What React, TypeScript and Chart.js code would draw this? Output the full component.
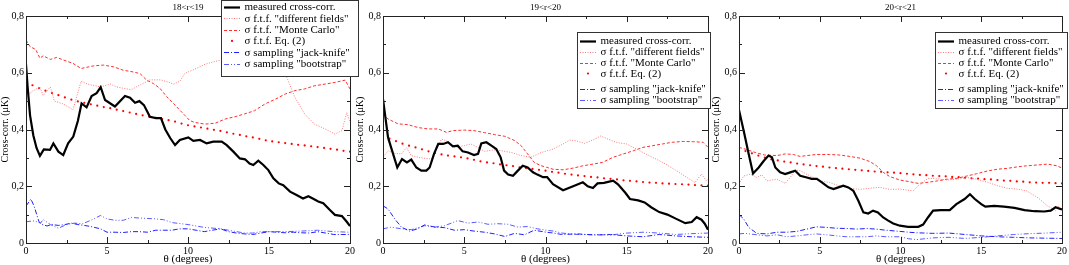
import React, { useEffect, useRef } from "react";
import { Chart, registerables } from "chart.js";

Chart.register(...registerables);

const FONT = "'Liberation Serif', 'Times New Roman', serif";

// ---------- texts & ticks ----------
const panelTitles = ["18<r<19", "19<r<20", "20<r<21"];
const seriesLabels = [
  "measured cross-corr.",
  'σ f.t.f. "different fields"',
  'σ f.t.f. "Monte Carlo"',
  "σ f.t.f. Eq. (2)",
  'σ sampling "jack-knife"',
  'σ sampling "bootstrap"',
];
const xAxisTitle = "θ (degrees)";
const yAxisTitle = "Cross-corr. (μK)";
const xMajorTicks = [0, 5, 10, 15, 20];
const xMinorTicks = [2.5, 7.5, 12.5, 17.5];
const yMajorTicks = [0, 0.2, 0.4, 0.6, 0.8];
const yMinorTicks = [0.1, 0.3, 0.5, 0.7];

// θ grid of the Eq. (2) dots
const eq2Theta = [
  0, 0.4, 0.8, 1.2, 1.6, 2.0, 2.4, 2.8, 3.2, 3.6, 4.0, 4.4, 4.8, 5.2, 5.6, 6.0, 6.4, 6.8, 7.2, 7.6,
  8.0, 8.4, 8.8, 9.2, 9.6, 10.0, 10.4, 10.8, 11.2, 11.6, 12.0, 12.4, 12.8, 13.2, 13.6, 14.0, 14.4,
  14.8, 15.2, 15.6, 16.0, 16.4, 16.8, 17.2, 17.6, 18.0, 18.4, 18.8, 19.2, 19.6, 20.0,
];

// ---------- panel 1 : 18<r<19 ----------
const p1Measured = [
  [0, 0.63], [0.1, 0.55], [0.25, 0.45], [0.45, 0.38], [0.65, 0.335], [0.86, 0.307], [1.1, 0.33],
  [1.48, 0.328], [1.69, 0.351], [2.0, 0.322], [2.3, 0.31], [2.6, 0.351], [2.92, 0.375], [3.2, 0.43],
  [3.43, 0.492], [3.74, 0.478], [4.05, 0.518], [4.36, 0.528], [4.61, 0.549], [4.88, 0.504],
  [5.49, 0.481], [6.11, 0.518], [6.42, 0.512], [6.73, 0.494], [7.0, 0.5], [7.28, 0.486],
  [7.65, 0.445], [8.02, 0.44], [8.33, 0.44], [8.6, 0.4], [8.9, 0.37], [9.2, 0.345], [9.5, 0.363],
  [10.02, 0.372], [10.33, 0.36], [10.74, 0.363], [11.15, 0.351], [11.56, 0.357], [12.08, 0.357],
  [12.39, 0.345], [12.8, 0.322], [13.2, 0.298], [13.52, 0.295], [13.8, 0.28], [14.03, 0.275],
  [14.34, 0.29], [14.65, 0.275], [14.96, 0.257], [15.27, 0.228], [15.6, 0.21], [15.88, 0.204],
  [16.3, 0.181], [16.7, 0.169], [17.1, 0.157], [17.43, 0.165], [17.7, 0.157], [18.04, 0.146],
  [18.35, 0.14], [18.76, 0.116], [19.07, 0.099], [19.5, 0.095], [19.8, 0.075], [20, 0.06],
];
const p1Different = [
  [0, 0.515], [0.4, 0.535], [0.85, 0.55], [1.06, 0.52], [1.5, 0.55], [1.75, 0.5], [2.3, 0.49],
  [2.9, 0.47], [3.4, 0.57], [3.8, 0.56], [4.6, 0.55], [5.2, 0.56], [5.6, 0.55], [6.5, 0.54],
  [6.8, 0.55], [7.65, 0.575], [8.3, 0.575], [8.9, 0.565], [9.1, 0.56], [9.5, 0.57], [9.8, 0.598],
  [10.43, 0.613], [11.05, 0.63], [11.67, 0.64], [12.3, 0.648], [13.0, 0.655], [13.8, 0.66],
  [14.6, 0.65], [15.4, 0.62], [16.1, 0.584], [16.6, 0.513], [17.2, 0.455], [17.8, 0.419],
  [18.46, 0.402], [19.07, 0.384], [19.5, 0.396], [19.8, 0.46], [20, 0.425],
];
const p1MonteCarlo = [
  [0, 0.715], [0.25, 0.692], [0.6, 0.682], [0.86, 0.651], [1.06, 0.66], [1.5, 0.647], [1.9, 0.654],
  [2.3, 0.645], [2.9, 0.633], [3.4, 0.615], [4.15, 0.624], [4.77, 0.627], [5.4, 0.621], [6.0, 0.609],
  [6.6, 0.603], [7.04, 0.597], [7.45, 0.574], [7.86, 0.562], [8.27, 0.545], [8.68, 0.516],
  [9.1, 0.492], [9.5, 0.468], [9.8, 0.45], [10.1, 0.432], [10.4, 0.425], [11.05, 0.419],
  [11.67, 0.422], [12.3, 0.437], [12.9, 0.445], [13.5, 0.455], [14.1, 0.466], [14.75, 0.49],
  [15.4, 0.507], [16.0, 0.525], [16.6, 0.537], [17.2, 0.543], [17.8, 0.554], [18.46, 0.56],
  [19.07, 0.566], [19.7, 0.574], [20, 0.543],
];
const p1Eq2 = [
  0.566, 0.556, 0.546, 0.537, 0.529, 0.521, 0.513, 0.505, 0.499, 0.494, 0.489, 0.484, 0.479, 0.475,
  0.47, 0.465, 0.46, 0.455, 0.45, 0.445, 0.441, 0.437, 0.433, 0.428, 0.421, 0.415, 0.411, 0.407,
  0.403, 0.399, 0.395, 0.39, 0.385, 0.381, 0.376, 0.372, 0.367, 0.362, 0.358, 0.355, 0.352, 0.349,
  0.346, 0.344, 0.341, 0.338, 0.335, 0.332, 0.329, 0.325, 0.322,
];
const p1JackKnife = [
  [0, 0.13], [0.3, 0.155], [0.5, 0.13], [0.8, 0.075], [1.0, 0.065], [1.3, 0.06], [1.6, 0.065],
  [2.0, 0.062], [2.4, 0.065], [2.8, 0.07], [3.2, 0.065], [3.6, 0.062], [4.0, 0.058], [4.6, 0.05],
  [5.0, 0.038], [5.5, 0.038], [6.0, 0.037], [6.5, 0.04], [7.0, 0.04], [7.5, 0.038], [8.0, 0.045],
  [8.5, 0.045], [9.0, 0.045], [9.5, 0.05], [10, 0.05], [10.5, 0.045], [11, 0.04], [11.5, 0.045],
  [12, 0.05], [12.5, 0.04], [13, 0.035], [13.5, 0.032], [14, 0.03], [14.5, 0.035], [15, 0.04],
  [15.5, 0.038], [16, 0.036], [16.5, 0.038], [17, 0.036], [17.5, 0.035], [18, 0.04], [18.5, 0.035],
  [19, 0.03], [19.5, 0.03], [20, 0.03],
];
const p1Bootstrap = [
  [0, 0.075], [0.5, 0.078], [0.9, 0.07], [1.06, 0.083], [1.5, 0.065], [2.0, 0.052], [2.5, 0.065],
  [3.0, 0.07], [3.5, 0.068], [4.0, 0.08], [4.6, 0.097], [5.0, 0.085], [5.5, 0.08], [6.0, 0.08],
  [6.5, 0.09], [7.0, 0.088], [8.0, 0.085], [8.5, 0.082], [9.0, 0.072], [10, 0.065], [10.5, 0.06],
  [11, 0.055], [12, 0.05], [12.5, 0.045], [13, 0.04], [13.5, 0.035], [14, 0.035], [14.5, 0.04],
  [15, 0.04], [16, 0.04], [17, 0.042], [18, 0.045], [19, 0.04], [20, 0.038],
];

// ---------- panel 2 : 19<r<20 ----------
const p2Measured = [
  [0, 0.507], [0.31, 0.372], [0.62, 0.314], [0.88, 0.266], [1.17, 0.296], [1.47, 0.284],
  [1.74, 0.294], [2.05, 0.266], [2.36, 0.255], [2.67, 0.255], [2.87, 0.266], [3.14, 0.314],
  [3.4, 0.349], [3.7, 0.349], [4.0, 0.355], [4.3, 0.341], [4.6, 0.343], [4.9, 0.323], [5.23, 0.319],
  [5.6, 0.31], [5.85, 0.314], [6.05, 0.351], [6.36, 0.355], [6.67, 0.343], [6.97, 0.331],
  [7.24, 0.302], [7.45, 0.255], [7.7, 0.241], [8.0, 0.237], [8.3, 0.255], [8.6, 0.272],
  [8.9, 0.266], [9.23, 0.249], [9.5, 0.241], [9.85, 0.232], [10.1, 0.232], [10.46, 0.207],
  [11.08, 0.186], [11.7, 0.2], [12.3, 0.214], [12.6, 0.2], [12.92, 0.194], [13.2, 0.21],
  [13.6, 0.212], [14.16, 0.22], [14.46, 0.207], [14.9, 0.178], [15.2, 0.155], [15.7, 0.15],
  [16.1, 0.143], [16.5, 0.126], [17.0, 0.109], [17.5, 0.1], [18.05, 0.085], [18.6, 0.07],
  [19.0, 0.074], [19.3, 0.091], [19.6, 0.082], [19.8, 0.068], [20, 0.047],
];
const p2Different = [
  [0, 0.302], [0.31, 0.325], [0.72, 0.316], [1.13, 0.314], [1.44, 0.336], [1.74, 0.308],
  [2.36, 0.3], [2.97, 0.296], [3.3, 0.331], [3.6, 0.366], [3.9, 0.36], [4.4, 0.336], [5.0, 0.343],
  [5.4, 0.349], [5.85, 0.337], [6.25, 0.323], [6.8, 0.328], [7.3, 0.325], [7.9, 0.319],
  [8.5, 0.308], [9.1, 0.302], [9.74, 0.319], [10.46, 0.331], [11.08, 0.349], [11.5, 0.363],
  [11.9, 0.36], [12.4, 0.351], [12.92, 0.363], [13.4, 0.377], [13.85, 0.366], [14.4, 0.354],
  [15.0, 0.349], [15.6, 0.331], [16.2, 0.313], [16.8, 0.296], [17.4, 0.278], [18.05, 0.255],
  [18.7, 0.231], [19.2, 0.213], [19.6, 0.243], [19.9, 0.219], [20, 0.225],
];
const p2MonteCarlo = [
  [0, 0.455], [0.31, 0.437], [0.92, 0.42], [1.54, 0.417], [2.15, 0.407], [2.77, 0.402],
  [3.4, 0.402], [3.9, 0.39], [4.3, 0.396], [5.0, 0.398], [5.6, 0.396], [6.25, 0.389], [6.87, 0.382],
  [7.5, 0.376], [8.1, 0.361], [8.5, 0.343], [8.9, 0.314], [9.3, 0.284], [9.7, 0.273], [10.05, 0.267],
  [10.46, 0.26], [11.08, 0.258], [11.7, 0.264], [12.3, 0.272], [12.92, 0.278], [13.5, 0.284],
  [14.16, 0.302], [14.8, 0.314], [15.4, 0.325], [16.0, 0.337], [16.6, 0.343], [17.2, 0.349],
  [17.8, 0.355], [18.5, 0.358], [19.1, 0.357], [19.7, 0.355], [20, 0.337],
];
const p2Eq2 = [
  0.378, 0.368, 0.359, 0.35, 0.343, 0.337, 0.33, 0.323, 0.317, 0.312, 0.308, 0.305, 0.302, 0.298,
  0.293, 0.288, 0.284, 0.281, 0.277, 0.274, 0.271, 0.267, 0.264, 0.261, 0.258, 0.255, 0.251, 0.248,
  0.244, 0.241, 0.238, 0.236, 0.233, 0.231, 0.228, 0.226, 0.224, 0.221, 0.219, 0.217, 0.215, 0.213,
  0.212, 0.21, 0.209, 0.208, 0.207, 0.206, 0.204, 0.203, 0.202,
];
const p2JackKnife = [
  [0, 0.131], [0.31, 0.12], [0.72, 0.085], [1.13, 0.056], [1.64, 0.042], [2.15, 0.05], [2.56, 0.064],
  [3.2, 0.056], [3.8, 0.054], [4.4, 0.045], [5.0, 0.047], [5.6, 0.042], [6.25, 0.038], [6.87, 0.032],
  [7.5, 0.023], [8.1, 0.034], [8.7, 0.029], [9.3, 0.045], [10.05, 0.038], [10.5, 0.035], [11, 0.03],
  [12, 0.032], [13, 0.028], [14, 0.03], [15, 0.025], [16, 0.022], [17, 0.03], [18, 0.025],
  [19, 0.022], [20, 0.02],
];
const p2Bootstrap = [
  [0, 0.05], [0.51, 0.056], [1.13, 0.05], [1.74, 0.047], [2.56, 0.061], [3.2, 0.056], [3.8, 0.061],
  [4.6, 0.079], [5.23, 0.07], [5.85, 0.074], [6.46, 0.066], [7.07, 0.068], [7.7, 0.066], [8.3, 0.056],
  [8.9, 0.058], [9.5, 0.05], [10.05, 0.045], [10.5, 0.042], [11, 0.035], [12, 0.03], [13, 0.03],
  [14, 0.028], [15, 0.035], [16, 0.038], [17, 0.035], [18, 0.03], [19, 0.033], [20, 0.035],
];

// ---------- panel 3 : 20<r<21 ----------
const p3Measured = [
  [0, 0.469], [0.29, 0.396], [0.6, 0.314], [0.87, 0.245], [1.22, 0.266], [1.54, 0.29], [1.83, 0.308],
  [2.04, 0.302], [2.25, 0.266], [2.55, 0.249], [2.86, 0.243], [3.17, 0.249], [3.48, 0.255],
  [3.79, 0.237], [4.2, 0.231], [4.5, 0.226], [4.82, 0.226], [5.13, 0.214], [5.54, 0.196],
  [5.85, 0.19], [6.15, 0.196], [6.46, 0.202], [6.77, 0.196], [7.08, 0.184], [7.39, 0.149],
  [7.7, 0.108], [8.0, 0.104], [8.3, 0.114], [8.6, 0.108], [8.93, 0.09], [9.24, 0.079], [9.55, 0.069],
  [9.96, 0.061], [10.47, 0.057], [11.1, 0.057], [11.4, 0.065], [11.7, 0.09], [12.02, 0.114],
  [12.5, 0.116], [13.05, 0.116], [13.46, 0.137], [13.97, 0.155], [14.3, 0.172], [14.6, 0.155],
  [15.0, 0.137], [15.25, 0.128], [15.8, 0.131], [16.4, 0.128], [17.06, 0.124], [17.68, 0.116],
  [18.3, 0.112], [18.9, 0.111], [19.3, 0.114], [19.6, 0.126], [19.9, 0.12], [20, 0.118],
];
const p3Different = [
  [0, 0.207], [0.29, 0.236], [0.7, 0.243], [1.1, 0.231], [1.42, 0.24], [1.73, 0.219], [2.35, 0.225],
  [2.86, 0.21], [3.17, 0.231], [3.48, 0.257], [3.79, 0.255], [4.4, 0.236], [5.02, 0.219],
  [5.6, 0.213], [6.25, 0.201], [6.87, 0.193], [7.5, 0.189], [8.1, 0.193], [8.7, 0.196],
  [9.34, 0.189], [9.96, 0.19], [10.47, 0.186], [10.8, 0.184], [11.1, 0.202], [11.7, 0.228],
  [12.3, 0.226], [12.9, 0.222], [13.5, 0.225], [14.1, 0.231], [14.7, 0.225], [15.4, 0.214],
  [16.0, 0.202], [16.6, 0.193], [17.2, 0.19], [17.8, 0.184], [18.5, 0.16], [19.1, 0.131],
  [19.6, 0.114], [19.8, 0.131], [20, 0.114],
];
const p3MonteCarlo = [
  [0, 0.337], [0.38, 0.331], [1.0, 0.319], [1.6, 0.31], [2.35, 0.308], [2.86, 0.314], [3.37, 0.312],
  [3.79, 0.305], [4.2, 0.308], [4.8, 0.312], [5.6, 0.312], [6.25, 0.31], [6.87, 0.305], [7.5, 0.299],
  [8.1, 0.287], [8.5, 0.273], [8.93, 0.249], [9.34, 0.234], [9.96, 0.222], [10.47, 0.217],
  [11.1, 0.21], [11.7, 0.214], [12.3, 0.219], [12.9, 0.225], [13.5, 0.228], [14.1, 0.236],
  [14.7, 0.244], [15.4, 0.254], [16.0, 0.26], [16.6, 0.263], [17.2, 0.268], [17.8, 0.272],
  [18.5, 0.275], [19.1, 0.278], [19.7, 0.272], [20, 0.264],
];
const p3Eq2 = [
  0.332, 0.324, 0.316, 0.308, 0.301, 0.295, 0.291, 0.287, 0.284, 0.28, 0.277, 0.274, 0.271, 0.269,
  0.266, 0.264, 0.262, 0.26, 0.258, 0.256, 0.254, 0.252, 0.251, 0.249, 0.248, 0.246, 0.244, 0.242,
  0.24, 0.239, 0.237, 0.236, 0.235, 0.233, 0.232, 0.23, 0.228, 0.227, 0.225, 0.224, 0.222, 0.22,
  0.219, 0.217, 0.216, 0.214, 0.213, 0.212, 0.212, 0.211, 0.21,
];
const p3JackKnife = [
  [0, 0.1], [0.29, 0.085], [0.6, 0.055], [1.1, 0.034], [1.73, 0.032], [2.35, 0.038], [2.96, 0.038],
  [3.58, 0.041], [4.2, 0.049], [4.8, 0.057], [5.43, 0.055], [6.05, 0.052], [6.67, 0.051], [7.3, 0.049],
  [7.9, 0.051], [8.5, 0.049], [9.1, 0.045], [9.96, 0.041], [10.5, 0.038], [11, 0.036], [12, 0.034],
  [13, 0.035], [14, 0.03], [15, 0.025], [16, 0.022], [17, 0.02], [18, 0.018], [19, 0.017], [20, 0.016],
];
const p3Bootstrap = [
  [0, 0.032], [0.38, 0.034], [1.1, 0.029], [1.73, 0.025], [2.35, 0.029], [2.96, 0.022], [3.58, 0.025],
  [4.2, 0.029], [4.8, 0.032], [5.43, 0.029], [6.05, 0.025], [6.67, 0.022], [7.3, 0.022], [7.9, 0.022],
  [8.5, 0.025], [9.1, 0.022], [9.96, 0.022], [10.5, 0.015], [11, 0.012], [12, 0.018], [13, 0.02],
  [14, 0.016], [15, 0.02], [16, 0.025], [17, 0.03], [18, 0.033], [19, 0.035], [20, 0.038],
];

// ---------- styles ----------
const STYLES = [
  { color: "#000000", width: 2.2, dash: [] as number[], dots: false },
  { color: "rgb(255,120,120)", width: 1, dash: [1, 1.5], dots: false },
  { color: "rgb(255,45,45)", width: 1, dash: [3, 2], dots: false },
  { color: "#ff0000", width: 0, dash: [] as number[], dots: true },
  { color: "rgb(30,30,255)", width: 1, dash: [5, 2, 1, 2], dots: false },
  { color: "rgb(90,90,255)", width: 1, dash: [5, 2, 1, 2, 1, 2], dots: false },
];

type PanelCfg = {
  title: string;
  series: number[][][];
  eq2: number[];
  left: number;
  width: number;
  yWidth: number;
  padRight: number;
  legend: { x: number; y: number; w: number; h: number; rows: number[] };
};

const PANELS: PanelCfg[] = [
  {
    title: panelTitles[0],
    series: [p1Measured, p1Different, p1MonteCarlo, [], p1JackKnife, p1Bootstrap],
    eq2: p1Eq2,
    left: 0, width: 362, yWidth: 26, padRight: 12,
    legend: { x: 221, y: 0, w: 138, h: 77, rows: [6.7, 18.3, 30, 40.9, 52.3, 64] },
  },
  {
    title: panelTitles[1],
    series: [p2Measured, p2Different, p2MonteCarlo, [], p2JackKnife, p2Bootstrap],
    eq2: p2Eq2,
    left: 355, width: 360, yWidth: 28, padRight: 7,
    legend: { x: 577, y: 32, w: 134, h: 77, rows: [41, 51.7, 62.7, 73.5, 88.5, 100] },
  },
  {
    title: panelTitles[2],
    series: [p3Measured, p3Different, p3MonteCarlo, [], p3JackKnife, p3Bootstrap],
    eq2: p3Eq2,
    left: 711, width: 358, yWidth: 28, padRight: 6,
    legend: { x: 935, y: 32, w: 133, h: 77, rows: [41, 51.7, 62.7, 73.5, 88.5, 100] },
  },
];

function Panel({ cfg }: { cfg: PanelCfg }) {
  const ref = useRef<HTMLCanvasElement | null>(null);

  useEffect(() => {
    const canvas = ref.current;
    if (!canvas) return;

    const datasets: any[] = seriesLabels.map((label, i) => {
      const st = STYLES[i];
      if (st.dots) {
        return {
          label,
          data: eq2Theta.map((x, k) => ({ x, y: cfg.eq2[k] })),
          showLine: false,
          pointRadius: 1.1,
          pointBackgroundColor: st.color,
          pointBorderWidth: 0,
          borderColor: st.color,
        };
      }
      return {
        label,
        data: cfg.series[i].map(([x, y]) => ({ x, y })),
        borderColor: st.color,
        borderWidth: st.width,
        borderDash: st.dash,
        pointRadius: 0,
        fill: false,
        tension: 0,
      };
    });

    const deco = {
      id: "deco",
      afterDraw(chart: any) {
        const ctx = chart.ctx as CanvasRenderingContext2D;
        const { left, right, top, bottom } = chart.chartArea;
        const xs = chart.scales.x;
        const ys = chart.scales.y;
        ctx.save();
        ctx.strokeStyle = "#222";
        ctx.lineWidth = 1;
        ctx.setLineDash([]);
        // frame
        ctx.strokeRect(Math.round(left) + 0.5, Math.round(top) + 0.5, Math.round(right - left), Math.round(bottom - top));
        // ticks (inward, mirrored)
        const tick = (vals: number[], len: number) => {
          vals.forEach((v) => {
            const px = Math.round(xs.getPixelForValue(v)) + 0.5;
            ctx.beginPath();
            ctx.moveTo(px, bottom); ctx.lineTo(px, bottom - len);
            ctx.moveTo(px, top); ctx.lineTo(px, top + len);
            ctx.stroke();
          });
        };
        const ytick = (vals: number[], len: number) => {
          vals.forEach((v) => {
            const py = Math.round(ys.getPixelForValue(v)) + 0.5;
            ctx.beginPath();
            ctx.moveTo(left, py); ctx.lineTo(left + len, py);
            ctx.moveTo(right, py); ctx.lineTo(right - len, py);
            ctx.stroke();
          });
        };
        tick(xMajorTicks, 6);
        tick(xMinorTicks, 3);
        ytick(yMajorTicks, 6);
        ytick(yMinorTicks, 3);

        // panel title
        ctx.fillStyle = "#000";
        ctx.font = `9px ${FONT}`;
        ctx.textAlign = "center";
        ctx.textBaseline = "middle";
        ctx.fillText(cfg.title, (left + right) / 2, 7.5);

        // legend
        const L = cfg.legend;
        const bx = L.x - cfg.left;
        ctx.fillStyle = "#fff";
        ctx.fillRect(bx, L.y, L.w, L.h);
        ctx.strokeStyle = "#333";
        ctx.strokeRect(bx + 0.5, L.y + 0.5, L.w - 1, L.h - 1);
        ctx.font = `11px ${FONT}`;
        ctx.textAlign = "left";
        ctx.textBaseline = "middle";
        seriesLabels.forEach((label, i) => {
          const st = STYLES[i];
          const ry = L.rows[i];
          if (st.dots) {
            ctx.fillStyle = st.color;
            ctx.beginPath();
            ctx.arc(bx + 11, ry, 1.1, 0, Math.PI * 2);
            ctx.fill();
          } else {
            ctx.strokeStyle = st.color;
            ctx.lineWidth = st.width;
            ctx.setLineDash(st.dash);
            ctx.beginPath();
            ctx.moveTo(bx + 3, Math.round(ry) + 0.5);
            ctx.lineTo(bx + 19, Math.round(ry) + 0.5);
            ctx.stroke();
            ctx.setLineDash([]);
          }
          ctx.fillStyle = "#000";
          ctx.fillText(label, bx + 23.5, ry + 0.5);
        });
        ctx.restore();
      },
    };

    const chart = new Chart(canvas, {
      type: "line",
      data: { datasets },
      options: {
        animation: false,
        responsive: false,
        maintainAspectRatio: false,
        devicePixelRatio: 1,
        layout: { padding: { top: 16, right: cfg.padRight, left: 0, bottom: 0 } },
        plugins: {
          legend: { display: false },
          tooltip: { enabled: false },
          title: { display: false },
        },
        scales: {
          x: {
            type: "linear",
            min: 0,
            max: 20,
            afterFit: (s: any) => { s.height = 22; },
            grid: { display: false, drawTicks: false },
            border: { display: false },
            ticks: {
              stepSize: 5,
              padding: 2,
              color: "#000",
              maxRotation: 0,
              autoSkip: false,
              font: { family: FONT, size: 10 },
            },
            title: {
              display: true,
              text: xAxisTitle,
              color: "#000",
              padding: 0,
              font: { family: FONT, size: 11, lineHeight: 1 },
            },
          },
          y: {
            type: "linear",
            min: 0,
            max: 0.8,
            afterFit: (s: any) => { s.width = cfg.yWidth; },
            grid: { display: false, drawTicks: false },
            border: { display: false },
            ticks: {
              stepSize: 0.2,
              padding: 2,
              color: "#000",
              font: { family: FONT, size: 10 },
              callback: (v: any) => (Number(v) === 0 ? "0" : Number(v).toFixed(1).replace(".", ",")),
            },
            title: {
              display: true,
              text: yAxisTitle,
              color: "#000",
              padding: 0,
              font: { family: FONT, size: 10, lineHeight: 1 },
            },
          },
        },
      } as any,
      plugins: [deco],
    });
    return () => chart.destroy();
  }, [cfg]);

  return (
    <canvas
      ref={ref}
      width={cfg.width}
      height={265}
      style={{ position: "absolute", left: cfg.left, top: 0, width: cfg.width, height: 265 }}
    />
  );
}

export default function App() {
  return (
    <div style={{ position: "fixed", left: 0, top: 0, width: 1069, height: 265, background: "#fff", overflow: "hidden" }}>
      {PANELS.map((p, i) => (
        <Panel key={i} cfg={p} />
      ))}
    </div>
  );
}
